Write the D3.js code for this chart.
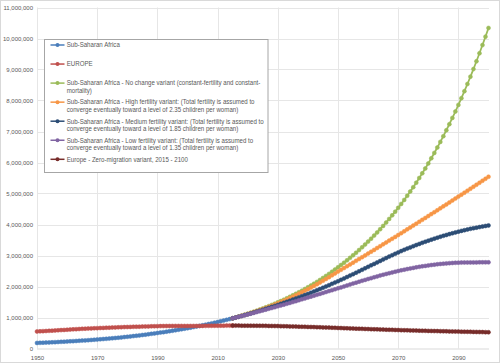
<!DOCTYPE html>
<html>
<head>
<meta charset="utf-8">
<script src="https://cdn.jsdelivr.net/npm/d3@7"></script>
<style>
  body { margin: 0; background: #fff; }
  svg text { font-family: "Liberation Sans", Arial, sans-serif; fill: #595959; }
</style>
</head>
<body>
<svg id="chart" width="500" height="363"></svg>
<script>
// population, thousands (values below are in millions, scaled by 1000 when drawn)
const histYears = d3.range(1950, 2016);
const projYears = d3.range(2015, 2101);

const ssa = [179,183,187,191,196,200,205,210,215,220,
  226,231,237,243,249,255,262,268,275,282,
  290,297,305,313,321,330,339,348,358,368,
  378,389,400,411,423,435,447,460,473,486,
  500,514,528,543,558,573,589,605,621,638,
  655,673,691,710,729,748,768,789,810,832,
  854,877,900,924,948,973];

const europe = [549,554,560,565,570,576,582,588,593,599,
  605,611,617,623,629,635,640,645,649,653,
  657,661,665,669,673,677,680,684,687,691,
  694,697,700,703,705,708,711,713,716,718,
  721,722,724,725,726,727,727,727,727,726,
  726,726,727,727,728,729,730,731,733,734,
  736,737,737,738,738,738];

const ssaNoChange = [973,1001,1030,1059,1090,1121,1153,1186,1220,1255,
  1291,1328,1366,1406,1446,1488,1530,1574,1619,1666,
  1714,1763,1813,1866,1919,1974,2031,2089,2149,2211,
  2274,2340,2407,2476,2547,2620,2693,2768,2845,2924,
  3006,3089,3175,3264,3354,3448,3544,3642,3744,3848,
  3955,4065,4179,4295,4414,4537,4664,4793,4927,5064,
  5205,5350,5499,5652,5809,5971,6137,6308,6484,6664,
  6850,7040,7236,7438,7645,7858,8076,8301,8532,8770,
  9014,9265,9523,9788,10060,10340];

const ssaHigh = [973,1000,1027,1055,1084,1113,1143,1174,1206,1239,
  1273,1308,1344,1381,1419,1458,1499,1541,1584,1628,
  1673,1719,1766,1814,1863,1913,1964,2017,2071,2126,
  2183,2241,2300,2359,2419,2480,2538,2596,2654,2712,
  2770,2828,2887,2945,3004,3063,3122,3181,3241,3300,
  3360,3420,3480,3540,3600,3660,3721,3782,3843,3904,
  3965,4026,4088,4150,4211,4273,4335,4398,4460,4523,
  4585,4648,4711,4774,4837,4900,4963,5027,5090,5154,
  5218,5282,5346,5411,5475,5540];

const ssaMedium = [973,999,1025,1051,1078,1105,1133,1161,1190,1220,
  1250,1281,1312,1343,1375,1407,1440,1474,1508,1542,
  1577,1613,1649,1685,1722,1759,1798,1838,1878,1918,
  1959,2001,2043,2085,2127,2170,2215,2260,2306,2352,
  2398,2445,2492,2539,2587,2634,2682,2729,2777,2824,
  2871,2918,2964,3010,3055,3100,3142,3183,3223,3262,
  3300,3337,3373,3409,3444,3479,3512,3544,3575,3605,
  3634,3662,3690,3717,3744,3770,3794,3817,3839,3860,
  3880,3899,3917,3935,3953,3970];

const ssaLow = [973,997,1021,1046,1071,1097,1123,1149,1175,1201,
  1227,1253,1280,1306,1333,1360,1387,1414,1442,1470,
  1498,1527,1556,1585,1614,1643,1673,1702,1732,1761,
  1791,1821,1851,1881,1910,1940,1971,2002,2033,2064,
  2095,2125,2155,2184,2213,2242,2270,2298,2326,2353,
  2380,2405,2429,2453,2477,2500,2521,2542,2562,2581,
  2600,2617,2634,2650,2665,2680,2693,2705,2717,2727,
  2737,2745,2753,2759,2765,2770,2772,2774,2775,2776,
  2777,2778,2779,2779,2780,2780];

const europeZeroMig = [738,738,738,737,737,737,736,735,734,733,
  732,730,728,727,725,723,721,718,716,713,
  711,708,705,702,700,697,694,690,687,684,
  681,677,674,670,667,663,659,656,652,649,
  645,641,638,634,631,627,624,620,617,613,
  610,607,604,601,598,595,592,589,587,584,
  581,578,576,573,571,568,566,563,561,558,
  556,554,551,549,547,545,543,541,539,537,
  535,533,531,529,527,525];

const seriesNames = [
  ["Sub-Saharan Africa"],
  ["EUROPE"],
  ["Sub-Saharan Africa - No change variant (constant-fertility and constant-", "mortality)"],
  ["Sub-Saharan Africa - High fertility variant: (Total fertility is assumed to", "converge eventually toward a level of 2.35 children per woman)"],
  ["Sub-Saharan Africa - Medium fertility variant: (Total fertility is assumed to", "converge eventually toward a level of 1.85 children per woman)"],
  ["Sub-Saharan Africa - Low fertility variant: (Total fertility is assumed to", "converge eventually toward a level of 1.35 children per woman)"],
  ["Europe - Zero-migration variant, 2015 - 2100"]
];
const colors = ["#4a7ebb", "#c0504d", "#9bbb59", "#f79646", "#2c4d75", "#8064a2", "#772c2a"];

const xTicks = [1950, 1970, 1990, 2010, 2030, 2050, 2070, 2090];
const yTicks = [0, 1e6, 2e6, 3e6, 4e6, 5e6, 6e6, 7e6, 8e6, 9e6, 10e6, 11e6];

const series = [
  [histYears, ssa], [histYears, europe],
  [projYears, ssaNoChange], [projYears, ssaHigh], [projYears, ssaMedium], [projYears, ssaLow],
  [projYears, europeZeroMig]
].map(([yrs, vals], i) => ({
  color: colors[i],
  pts: yrs.map((yr, j) => ({ yr: yr, v: vals[j] * 1000 }))
}));

const svg = d3.select("#chart");

// chart border
svg.append("rect").attr("x", 0.5).attr("y", 0.5).attr("width", 499).attr("height", 362)
  .attr("fill", "#fff").attr("stroke", "#d9d9d9");

const x = d3.scaleLinear().domain([1950, 2100]).range([37, 488.5]);
const y = d3.scaleLinear().domain([0, 11e6]).range([348.5, 7.5]);
const plotRight = 489;

// gridlines
svg.append("g").selectAll("line").data(yTicks.slice(1)).enter().append("line")
  .attr("x1", x(1950)).attr("x2", plotRight)
  .attr("y1", d => Math.round(y(d)) + 0.5).attr("y2", d => Math.round(y(d)) + 0.5)
  .attr("stroke", "#e6e6e6");
svg.append("g").selectAll("line").data(xTicks).enter().append("line")
  .attr("x1", d => Math.round(x(d)) + 0.5).attr("x2", d => Math.round(x(d)) + 0.5)
  .attr("y1", y(11e6)).attr("y2", y(0))
  .attr("stroke", "#e6e6e6");

// axes
const yAxis = svg.append("g").attr("transform", "translate(" + x(1950) + ",0)")
  .call(d3.axisLeft(y).tickValues(yTicks).tickFormat(d3.format(",")).tickSize(0).tickPadding(4));
yAxis.select(".domain").remove();
yAxis.selectAll("text").attr("font-size", 6).style("font-family", "Liberation Sans").attr("fill", "#595959");

const xAxis = svg.append("g").attr("transform", "translate(0," + y(0) + ")")
  .call(d3.axisBottom(x).tickValues(xTicks).tickFormat(d3.format("d")).tickSize(0).tickPadding(7));
xAxis.select(".domain").attr("stroke", "#d9d9d9").attr("d", "M" + x(1950) + ",0.5H" + plotRight);
xAxis.selectAll("text").attr("font-size", 6).style("font-family", "Liberation Sans").attr("fill", "#595959");

// series
const line = d3.line().x(d => x(d.yr)).y(d => y(d.v));
series.forEach(s => {
  const g = svg.append("g");
  g.append("path").datum(s.pts).attr("d", line)
    .attr("fill", "none").attr("stroke", s.color).attr("stroke-width", 1.75);
  g.selectAll("circle").data(s.pts).enter().append("circle")
    .attr("cx", d => x(d.yr)).attr("cy", d => y(d.v)).attr("r", 2)
    .attr("fill", s.color).attr("stroke", s.color).attr("stroke-width", 0.5);
});

// legend
const legend = svg.append("g");
legend.append("rect").attr("x", 44.5).attr("y", 39.5).attr("width", 223.5).attr("height", 133)
  .attr("fill", "#fff").attr("stroke", "#a6a6a6");

const rowTop = 45, rowStep = 19.05, lineStep = 7.4;
const items = legend.selectAll("g.item").data(seriesNames).enter().append("g")
  .attr("class", "item")
  .attr("transform", (d, i) => "translate(0," + (rowTop + i * rowStep) + ")");
items.append("line").attr("x1", 50.5).attr("x2", 64.5).attr("y1", 0).attr("y2", 0)
  .attr("stroke", (d, i) => colors[i]).attr("stroke-width", 1.5);
items.append("circle").attr("cx", 57.5).attr("cy", 0).attr("r", 2)
  .attr("fill", (d, i) => colors[i]);
items.each(function (lines) {
  d3.select(this).selectAll("text").data(lines).enter().append("text")
    .attr("class", "lt")
    .attr("font-size", 6.8)
    .attr("data-y", (t, k) => 2.3 + k * lineStep)
    .text(t => t);
});
// squeeze text horizontally to the reference width of the longest line
let longest = 0;
legend.selectAll("text.lt").each(function () { longest = Math.max(longest, this.getComputedTextLength()); });
const sx = 197 / longest;
legend.selectAll("text.lt")
  .attr("transform", function () { return "translate(66.7," + this.getAttribute("data-y") + ") scale(" + sx + ",1)"; });
</script>
</body>
</html>
